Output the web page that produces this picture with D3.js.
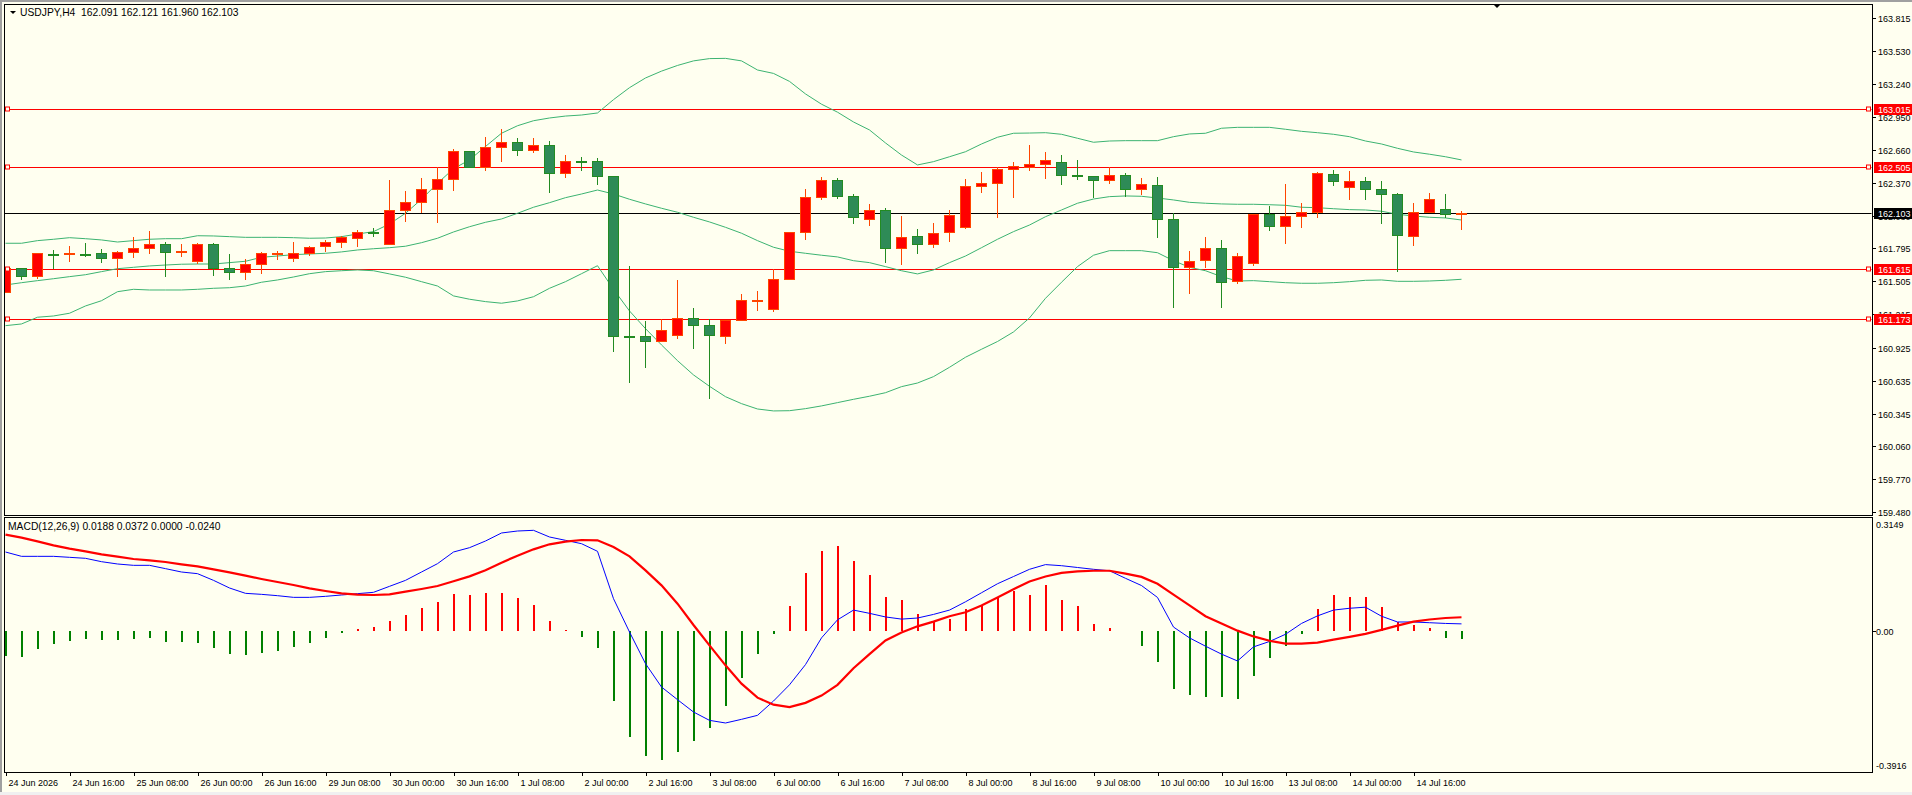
<!DOCTYPE html>
<html><head><meta charset="utf-8">
<script src="https://cdn.jsdelivr.net/npm/d3@7"></script>
<style>
html,body{margin:0;padding:0;background:#FFFFF0;overflow:hidden}
svg{display:block}
text{font-family:"Liberation Sans",Arial,sans-serif;font-size:9px;fill:#000}
</style></head><body>
<svg id="c" width="1912" height="795"></svg>
<script>
// ---------- DATA ----------
const days = ["24 Jun","25 Jun","26 Jun","29 Jun","30 Jun","1 Jul","2 Jul","3 Jul","6 Jul","7 Jul","8 Jul","9 Jul","10 Jul","13 Jul","14 Jul","15 Jul"];
const hours = ["00:00","04:00","08:00","12:00","16:00","20:00"];
const barTimes = days.flatMap(d => hours.map(h => d + " " + h)).slice(0, 92);

const open = [161.406,161.620,161.547,161.750,161.748,161.748,161.752,161.705,161.757,161.792,161.831,161.770,161.678,161.831,161.620,161.582,161.656,161.750,161.708,161.752,161.810,161.848,161.884,161.938,161.827,162.126,162.199,162.313,162.401,162.649,162.509,162.682,162.726,162.652,162.702,162.454,162.562,162.559,162.427,161.022,161.024,160.980,161.029,161.182,161.120,161.029,161.164,161.340,161.257,161.521,161.933,162.243,162.392,162.252,162.050,162.129,161.796,161.901,161.831,161.936,161.980,162.340,162.366,162.489,162.512,162.532,162.550,162.436,162.427,162.389,162.436,162.310,162.348,162.050,161.629,161.690,161.796,161.506,161.664,162.097,161.989,162.077,162.112,162.445,162.331,162.384,162.313,162.270,161.901,162.112,162.138,162.091];
const high = [161.625,161.625,161.755,161.781,161.816,161.840,161.790,161.772,161.892,161.948,161.848,161.831,161.840,161.840,161.743,161.699,161.763,161.772,161.848,161.813,161.866,161.906,161.956,161.971,162.395,162.299,162.413,162.505,162.664,162.652,162.772,162.842,162.763,162.763,162.737,162.614,162.594,162.588,162.430,161.643,161.158,161.173,161.518,161.275,161.173,161.170,161.398,161.421,161.612,161.938,162.316,162.421,162.410,162.272,162.184,162.149,162.079,161.965,162.018,162.132,162.401,162.465,162.512,162.553,162.702,162.641,162.614,162.570,162.429,162.506,162.456,162.413,162.421,162.103,161.772,161.895,161.869,161.752,162.096,162.167,162.360,162.193,162.463,162.483,162.474,162.421,162.386,162.281,162.193,162.281,162.272,162.121];
const low = [161.400,161.518,161.529,161.614,161.678,161.722,161.670,161.547,161.713,161.746,161.547,161.722,161.658,161.556,161.520,161.520,161.573,161.693,161.678,161.728,161.766,161.801,161.810,161.898,161.825,162.029,162.108,162.015,162.301,162.505,162.477,162.556,162.608,162.634,162.284,162.415,162.477,162.354,160.889,160.617,160.749,160.978,161.000,160.913,160.474,160.956,161.162,161.246,161.240,161.519,161.869,162.222,162.231,162.012,161.994,161.670,161.652,161.749,161.801,161.854,161.965,162.278,162.064,162.240,162.477,162.406,162.354,162.395,162.234,162.360,162.246,162.263,161.889,161.275,161.398,161.626,161.275,161.480,161.643,161.950,161.836,161.971,162.064,162.345,162.222,162.222,162.012,161.591,161.819,162.103,162.064,161.960];
const close = [161.620,161.547,161.752,161.745,161.752,161.744,161.705,161.761,161.796,161.831,161.757,161.775,161.831,161.617,161.582,161.656,161.752,161.755,161.752,161.805,161.848,161.892,161.936,161.934,162.129,162.199,162.313,162.401,162.649,162.509,162.682,162.726,162.652,162.699,162.454,162.559,162.557,162.424,161.020,161.018,160.977,161.077,161.182,161.117,161.029,161.167,161.340,161.345,161.524,161.936,162.243,162.392,162.249,162.068,162.129,161.796,161.892,161.827,161.927,162.085,162.340,162.369,162.489,162.515,162.535,162.568,162.433,162.424,162.389,162.436,162.310,162.357,162.050,161.629,161.682,161.796,161.498,161.726,162.094,161.989,162.077,162.112,162.454,162.384,162.384,162.313,162.270,161.910,162.112,162.226,162.094,162.103];

const bbUpper = [161.840,161.840,161.863,161.875,161.889,161.880,161.869,161.851,161.863,161.875,161.880,161.880,161.906,161.904,161.898,161.892,161.892,161.892,161.889,161.884,161.886,161.898,161.921,161.942,162.009,162.103,162.226,162.366,162.494,162.571,162.689,162.805,162.871,162.915,162.939,162.956,162.965,162.983,163.100,163.205,163.290,163.350,163.400,163.440,163.460,163.462,163.440,163.360,163.330,163.260,163.150,163.060,162.990,162.904,162.834,162.720,162.614,162.527,162.556,162.599,162.643,162.711,162.770,162.805,162.807,162.810,162.796,162.761,162.726,162.737,162.740,162.740,162.740,162.775,162.799,162.805,162.849,162.857,162.857,162.857,162.840,162.822,162.810,162.796,162.775,162.737,162.711,162.673,162.641,162.621,162.599,162.571];
const bbMiddle = [161.474,161.494,161.512,161.529,161.547,161.564,161.591,161.617,161.629,161.641,161.649,161.656,161.658,161.658,161.670,161.682,161.717,161.728,161.740,161.746,161.752,161.764,161.781,161.792,161.801,161.814,161.845,161.884,161.939,161.985,162.024,162.053,162.103,162.156,162.196,162.240,162.272,162.307,162.272,162.226,162.185,162.147,162.112,162.068,162.027,161.980,161.928,161.863,161.805,161.770,161.752,161.735,161.720,161.687,161.670,161.635,161.599,161.571,161.606,161.670,161.728,161.801,161.875,161.942,162.000,162.073,162.132,162.191,162.228,162.249,162.255,162.252,162.237,162.220,162.199,162.191,162.185,162.182,162.182,162.178,162.173,162.156,162.152,162.143,162.135,162.132,162.121,162.094,162.079,162.068,162.062,162.044];
const bbLower = [161.117,161.132,161.191,161.202,161.226,161.290,161.336,161.415,161.436,161.430,161.430,161.430,161.436,161.445,161.450,161.465,161.498,161.518,161.544,161.573,161.591,161.599,161.606,161.599,161.571,161.542,161.503,161.465,161.378,161.349,161.328,161.314,161.334,161.371,161.445,161.503,161.573,161.643,161.436,161.246,161.091,160.948,160.810,160.685,160.585,160.494,160.433,160.386,160.369,160.371,160.389,160.413,160.442,160.471,160.498,160.529,160.582,160.614,160.670,160.752,160.840,160.910,160.978,161.062,161.185,161.357,161.498,161.635,161.735,161.775,161.775,161.775,161.757,161.687,161.629,161.599,161.547,161.509,161.512,161.503,161.494,161.489,161.489,161.494,161.503,161.515,161.518,161.506,161.506,161.509,161.515,161.524];

const macdMain = [0.2179,0.2059,0.2059,0.2059,0.2032,0.2004,0.1911,0.1847,0.1810,0.1810,0.1718,0.1625,0.1579,0.1394,0.1182,0.1034,0.1006,0.0969,0.0923,0.0923,0.0951,0.0988,0.1025,0.1062,0.1228,0.1394,0.1625,0.1856,0.2179,0.2299,0.2484,0.2706,0.2761,0.2780,0.2595,0.2503,0.2410,0.2198,0.0886,-0.0037,-0.0914,-0.1561,-0.1912,-0.2254,-0.2485,-0.2558,-0.2457,-0.2346,-0.195,-0.150,-0.094,-0.020,0.030,0.057,0.048,0.038,0.032,0.035,0.045,0.057,0.080,0.105,0.130,0.150,0.170,0.183,0.180,0.175,0.170,0.166,0.145,0.125,0.092,0.010,-0.020,-0.043,-0.065,-0.084,-0.045,-0.030,-0.010,0.020,0.041,0.057,0.062,0.065,0.040,0.024,0.024,0.022,0.020,0.0188];
const macdSignal = [0.2660,0.2576,0.2475,0.2364,0.2272,0.2198,0.2115,0.2050,0.1985,0.1948,0.1902,0.1838,0.1782,0.1699,0.1616,0.1524,0.1431,0.1348,0.1265,0.1173,0.1099,0.1034,0.0997,0.0988,0.1006,0.1080,0.1154,0.1237,0.1367,0.1505,0.1671,0.1884,0.2078,0.2253,0.2392,0.2466,0.2512,0.2503,0.2318,0.2059,0.1671,0.1256,0.0748,0.0157,-0.0407,-0.0961,-0.1469,-0.1857,-0.205,-0.212,-0.200,-0.180,-0.150,-0.104,-0.065,-0.027,-0.005,0.012,0.025,0.040,0.051,0.070,0.092,0.115,0.136,0.150,0.160,0.164,0.166,0.166,0.158,0.149,0.130,0.100,0.070,0.040,0.020,0.000,-0.016,-0.028,-0.036,-0.036,-0.033,-0.025,-0.017,-0.009,0.002,0.014,0.025,0.031,0.035,0.0372];
const macdHist = [-0.0702,-0.0720,-0.0517,-0.0379,-0.0296,-0.0240,-0.0268,-0.0268,-0.0240,-0.0212,-0.0305,-0.0323,-0.0332,-0.0489,-0.0656,-0.0683,-0.0628,-0.0554,-0.0462,-0.0351,-0.0212,-0.0074,0.0037,0.0092,0.0277,0.0443,0.0619,0.0785,0.1025,0.0997,0.1053,0.1053,0.0896,0.0720,0.0277,0.0018,-0.0185,-0.0471,-0.1949,-0.2937,-0.3472,-0.3593,-0.3362,-0.3057,-0.2706,-0.2096,-0.1302,-0.0646,-0.009,0.069,0.160,0.221,0.235,0.194,0.153,0.092,0.086,0.045,0.025,0.032,0.059,0.069,0.092,0.109,0.099,0.126,0.086,0.069,0.018,0.008,-0.002,-0.043,-0.087,-0.161,-0.178,-0.184,-0.184,-0.188,-0.127,-0.076,-0.043,-0.009,0.059,0.099,0.092,0.092,0.066,0.025,0.015,0.008,-0.019,-0.024];

const priceTicks = [163.815,163.530,163.240,162.950,162.660,162.370,162.080,161.795,161.505,161.215,160.925,160.635,160.345,160.060,159.770,159.480];
const levelLines = [163.015,162.505,161.615,161.173];
const bidPrice = 162.103;
const macdTicks = [0.3149, 0, -0.3916];
const macdTickLabels = ["0.3149","0.00","-0.3916"];
const timeTickBars = ["24 Jun 00:00","24 Jun 16:00","25 Jun 08:00","26 Jun 00:00","26 Jun 16:00","29 Jun 08:00","30 Jun 00:00","30 Jun 16:00","1 Jul 08:00","2 Jul 00:00","2 Jul 16:00","3 Jul 08:00","6 Jul 00:00","6 Jul 16:00","7 Jul 08:00","8 Jul 00:00","8 Jul 16:00","9 Jul 08:00","10 Jul 00:00","10 Jul 16:00","13 Jul 08:00","14 Jul 00:00","14 Jul 16:00"];
const timeTickLabels = ["24 Jun 2026","24 Jun 16:00","25 Jun 08:00","26 Jun 00:00","26 Jun 16:00","29 Jun 08:00","30 Jun 00:00","30 Jun 16:00","1 Jul 08:00","2 Jul 00:00","2 Jul 16:00","3 Jul 08:00","6 Jul 00:00","6 Jul 16:00","7 Jul 08:00","8 Jul 00:00","8 Jul 16:00","9 Jul 08:00","10 Jul 00:00","10 Jul 16:00","13 Jul 08:00","14 Jul 00:00","14 Jul 16:00"];
const titleText = "USDJPY,H4  162.091 162.121 161.960 162.103";
const macdTitle = "MACD(12,26,9) 0.0188 0.0372 0.0000 -0.0240";

// ---------- LAYOUT ----------
const L = 4, R = 1872;
const mainTop = 4, mainBot = 515, macdTop = 517, macdBot = 772;
const svg = d3.select("#c");
const N = barTimes.length;
const step = 16, firstCenter = 5.5;
const x = d3.scaleBand().domain(barTimes).range([firstCenter - step/2, firstCenter - step/2 + step*N]).paddingInner(0).paddingOuter(0);
const cx = t => x(t) + x.bandwidth()/2;
const y = d3.scaleLinear().domain([159.456, 163.939]).range([mainBot, mainTop]);
const ym = d3.scaleLinear().domain([-0.3916, 0.3149]).range([macdBot, macdTop]);

// outer window border
svg.append("rect").attr("x",0).attr("y",0).attr("width",1912).attr("height",2).attr("fill","#a0a0a0");
svg.append("rect").attr("x",0).attr("y",0).attr("width",2).attr("height",795).attr("fill","#a0a0a0");
svg.append("rect").attr("x",0).attr("y",792).attr("width",1912).attr("height",3).attr("fill","#f0f0f0");

const defs = svg.append("defs");
defs.append("clipPath").attr("id","cm").append("rect").attr("x",L+0.5).attr("y",mainTop+0.5).attr("width",R-L-1).attr("height",mainBot-mainTop-1);
defs.append("clipPath").attr("id","cd").append("rect").attr("x",L+0.5).attr("y",macdTop+0.5).attr("width",R-L-1).attr("height",macdBot-macdTop-1);

const gm = svg.append("g").attr("clip-path","url(#cm)");
const gd = svg.append("g").attr("clip-path","url(#cd)");

// level lines
levelLines.forEach(p => {
  const yy = Math.round(y(p)) + 0.5;
  gm.append("line").attr("x1",L).attr("x2",R).attr("y1",yy).attr("y2",yy).attr("stroke","#FF0000").attr("stroke-width",1);
});
{
  const yy = Math.round(y(bidPrice)) + 0.5;
  gm.append("line").attr("x1",L).attr("x2",R).attr("y1",yy).attr("y2",yy).attr("stroke","#000").attr("stroke-width",1);
}

// bollinger bands
const idx = d3.range(N);
[bbUpper, bbMiddle, bbLower].forEach(arr => {
  gm.append("path")
    .attr("d", d3.line().x(i => cx(barTimes[i])).y(i => y(arr[i]))(idx))
    .attr("fill","none").attr("stroke","#3CB371").attr("stroke-width",1);
});

// candles
const up = i => close[i] >= open[i];
const cg = gm.append("g").attr("shape-rendering","crispEdges");
cg.selectAll("line.w").data(idx).join("line")
  .attr("x1", i => cx(barTimes[i])).attr("x2", i => cx(barTimes[i]))
  .attr("y1", i => y(high[i])).attr("y2", i => y(low[i]))
  .attr("stroke", i => up(i) ? "#FF4500" : "#228B22").attr("stroke-width",1);
cg.selectAll("rect.b").data(idx).join("rect")
  .attr("x", i => cx(barTimes[i]) - 5)
  .attr("y", i => Math.round(y(Math.max(open[i], close[i]))))
  .attr("width", 10)
  .attr("height", i => Math.max(1, Math.round(Math.abs(y(open[i]) - y(close[i])))))
  .attr("fill", i => up(i) ? "#FF0000" : "#2E8B57")
  .attr("stroke", i => up(i) ? "#FF4500" : "#228B22").attr("stroke-width",1);

// level line handles
levelLines.forEach(p => {
  const yy = Math.round(y(p));
  [L+1.5, R-5.5].forEach(xx => {
    gm.append("rect").attr("x",xx).attr("y",yy-2).attr("width",4).attr("height",4)
      .attr("fill","#FFFFF0").attr("stroke","#FF0000").attr("stroke-width",1);
  });
});

// MACD
gd.append("g").attr("shape-rendering","crispEdges").selectAll("line").data(idx).join("line")
  .attr("x1", i => cx(barTimes[i])).attr("x2", i => cx(barTimes[i]))
  .attr("y1", ym(0)).attr("y2", i => ym(macdHist[i]))
  .attr("stroke", i => macdHist[i] >= 0 ? "#FF0000" : "#008000").attr("stroke-width",2);
gd.append("path").attr("d", d3.line().x(i => cx(barTimes[i])).y(i => ym(macdMain[i]))(idx))
  .attr("fill","none").attr("stroke","#0000FF").attr("stroke-width",1);
gd.append("path").attr("d", d3.line().x(i => cx(barTimes[i])).y(i => ym(macdSignal[i]))(idx))
  .attr("fill","none").attr("stroke","#FF0000").attr("stroke-width",2.2);

// frames
svg.append("rect").attr("x",L+0.5).attr("y",mainTop+0.5).attr("width",R-L).attr("height",mainBot-mainTop).attr("fill","none").attr("stroke","#000");
svg.append("rect").attr("x",L+0.5).attr("y",macdTop+0.5).attr("width",R-L).attr("height",macdBot-macdTop).attr("fill","none").attr("stroke","#000");

// price axis
const ax = svg.append("g");
priceTicks.forEach(p => {
  const yy = Math.round(y(p)) + 0.5;
  ax.append("line").attr("x1",R).attr("x2",R+4).attr("y1",yy).attr("y2",yy).attr("stroke","#000");
  ax.append("text").attr("x",R+6).attr("y",yy).attr("dy","0.35em").text(d3.format(".3f")(p));
});
levelLines.forEach(p => {
  const yy = Math.round(y(p));
  ax.append("rect").attr("x",R+2).attr("y",yy-5).attr("width",40).attr("height",11).attr("fill","#FF0000");
  ax.append("text").attr("x",R+6).attr("y",yy+0.5).attr("dy","0.35em").style("fill","#fff").text(d3.format(".3f")(p));
});
{
  const yy = Math.round(y(bidPrice));
  ax.append("rect").attr("x",R+2).attr("y",yy-5).attr("width",40).attr("height",11).attr("fill","#000");
  ax.append("text").attr("x",R+6).attr("y",yy+0.5).attr("dy","0.35em").style("fill","#fff").text(d3.format(".3f")(bidPrice));
}
// macd axis
macdTicks.forEach((v,i) => {
  let yy = Math.round(ym(v)) + 0.5;
  if (i === 0) yy = macdTop + 8;
  if (i === 2) yy = macdBot - 6;
  if (v === 0) ax.append("line").attr("x1",R).attr("x2",R+4).attr("y1",yy).attr("y2",yy).attr("stroke","#000");
  ax.append("text").attr("x",R+4).attr("y",yy).attr("dy","0.35em").text(macdTickLabels[i]);
});

// time axis
timeTickBars.forEach((t,i) => {
  const xx = Math.round(cx(t)) + 0.5;
  ax.append("line").attr("x1",xx).attr("x2",xx).attr("y1",macdBot).attr("y2",macdBot+4).attr("stroke","#000");
  ax.append("text").attr("x",xx+2).attr("y",macdBot+14).text(timeTickLabels[i]);
});

// titles
svg.append("path").attr("d","M10,11 L16,11 L13,14 Z").attr("fill","#000");
svg.append("text").attr("x",20).attr("y",16).style("font-size","10.3px").style("white-space","pre").text(titleText);
svg.append("text").attr("x",8).attr("y",530).style("font-size","10.3px").style("white-space","pre").text(macdTitle);
// shift marker
svg.append("path").attr("d","M1493,4 L1501,4 L1497,8 Z").attr("fill","#000");
</script>
</body></html>
